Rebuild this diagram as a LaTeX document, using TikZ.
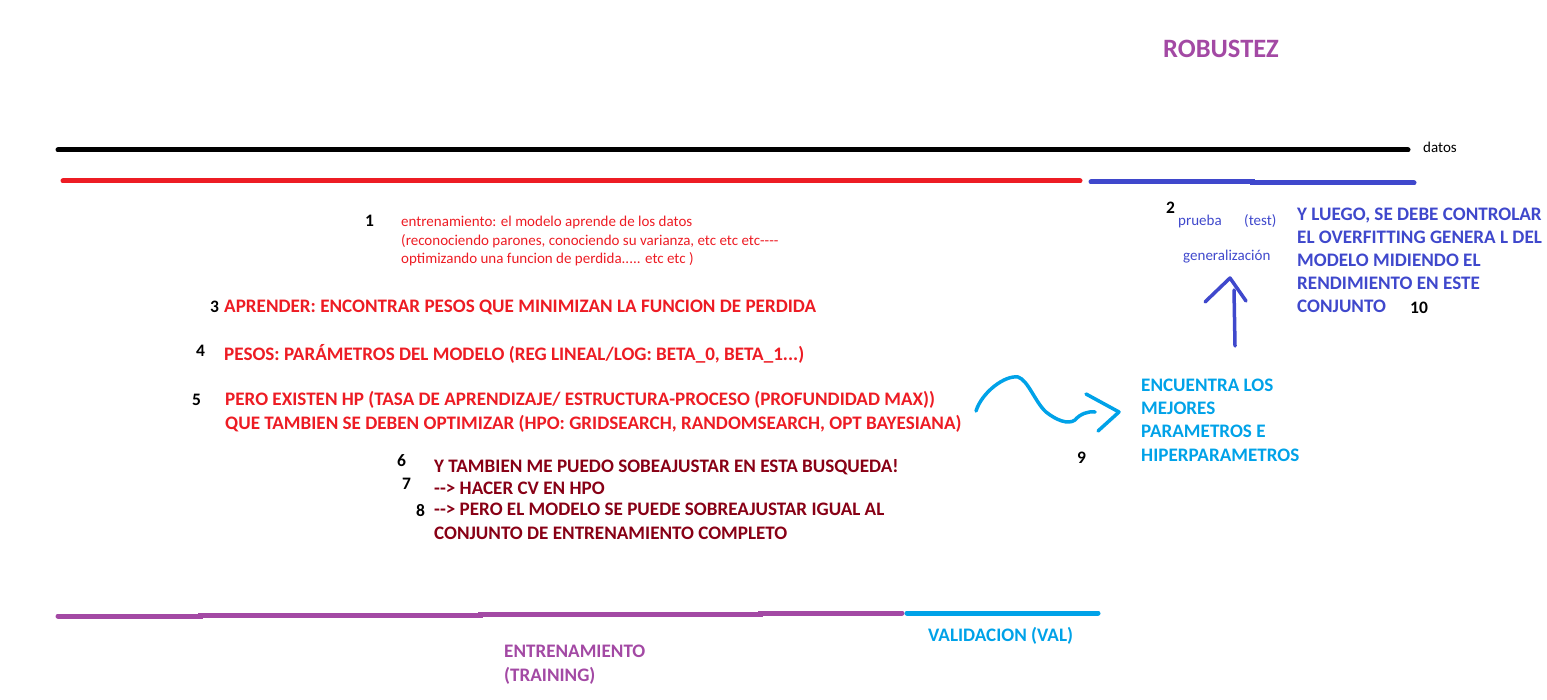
\documentclass[tikz,border=0pt]{standalone}
\usepackage{fontspec}
\setmainfont{Carlito}
\usepackage{tikz}
\definecolor{paintred}{HTML}{ED1C24}
\definecolor{paintdark}{HTML}{880015}
\definecolor{paintpurple}{HTML}{A349A4}
\definecolor{paintblue}{HTML}{3F48CC}
\definecolor{paintcyan}{HTML}{00A2E8}

\begin{document}
\begin{tikzpicture}[x=1pt, y=-1pt,
        small/.style={anchor=base west, inner sep=0pt, align=left, text=#1,
                      font=\fontsize{15}{18.6}\selectfont},
        big/.style={anchor=base west, inner sep=0pt, align=left, text=#1,
                    font=\bfseries\fontsize{19.1}{23.2}\selectfont},
        num/.style={anchor=base west, inner sep=0pt, font=\bfseries\fontsize{17.5}{20}\selectfont},
        bar/.style={line width=5pt, line cap=round, draw=#1},
        pen/.style={line width=3.5pt, line cap=round, line join=round, draw=#1}
    ]
        \useasboundingbox (0,0) rectangle (1547,700);

        \draw[bar=black] (58,150) -- (1408,150);
        \draw[bar=paintred] (63,181) -- (1080,181);
        \draw[bar=paintblue] (1091,182) -- (1252,182) -- (1252,183) -- (1414,183);
        \draw[bar=paintpurple] (58,616) -- (200,616) -- (200,615) -- (480,615)
            -- (480,614) -- (760,614) -- (760,613) -- (902,613);
        \draw[bar=paintcyan] (907,613) -- (1098,613);

        \node[big=paintpurple, font=\bfseries\fontsize{26.5}{30}\selectfont] (rob) at (1163,58) {ROBUSTEZ};
        \node[small=black] (datos) at (1423,153) {datos};

        \node[num] (n1) at (365,227) {1};
        \node[small=paintred] (entr) at (401,264)
            {entrenamiento: el modelo aprende de los datos\\
             (reconociendo parones, conociendo su varianza, etc etc etc-{}-{}-{}-\\
             optimizando una funcion de perdida..... etc etc )};

        \node[num] (n2) at (1166,214) {2};
        \node[small=paintblue] (prueba) at (1178,226) {prueba};
        \node[small=paintblue] (test) at (1244,226) {(test)};
        \node[small=paintblue] (gen) at (1183,261) {generalización};
        \node[big=paintblue] (luego) at (1297,313)
            {Y LUEGO, SE DEBE CONTROLAR\\
             EL OVERFITTING GENERA L DEL\\
             MODELO MIDIENDO EL\\
             RENDIMIENTO EN ESTE\\
             CONJUNTO};
        \node[num] (n10) at (1410,314) {10};

        \node[num] (n3) at (210,313) {3};
        \node[big=paintred] (aprender) at (224,313)
            {APRENDER: ENCONTRAR PESOS QUE MINIMIZAN LA FUNCION DE PERDIDA};
        \node[num] (n4) at (196,357) {4};
        \node[big=paintred] (pesos) at (224,360)
            {PESOS: PARÁMETROS DEL MODELO (REG LINEAL/LOG: BETA\_0, BETA\_1...)};
        \node[num] (n5) at (192,406) {5};
        \node[big=paintred, font=\bfseries\fontsize{19.1}{24}\selectfont] (hp) at (225,429)
            {PERO EXISTEN HP (TASA DE APRENDIZAJE/ ESTRUCTURA-PROCESO (PROFUNDIDAD MAX))\\
             QUE TAMBIEN SE DEBEN OPTIMIZAR (HPO: GRIDSEARCH, RANDOMSEARCH, OPT BAYESIANA)};

        \node[num] (n6) at (397,466) {6};
        \node[big=paintdark] (sobre) at (434,472) {Y TAMBIEN ME PUEDO SOBEAJUSTAR EN ESTA BUSQUEDA!};
        \node[num] (n7) at (402,489) {7};
        \node[big=paintdark] (cv) at (434,494) {-{}-{}> HACER CV EN HPO};
        \node[num] (n8) at (416,516) {8};
        \node[big=paintdark] (igual) at (434,539)
            {-{}-{}> PERO EL MODELO SE PUEDE SOBREAJUSTAR IGUAL AL\\
             CONJUNTO DE ENTRENAMIENTO COMPLETO};

        \node[num] (n9) at (1077,463) {9};
        \node[big=paintcyan] (mejores) at (1141,461)
            {ENCUENTRA LOS\\ MEJORES\\ PARAMETROS E\\ HIPERPARAMETROS};

        \node[big=paintcyan] (val) at (928,641) {VALIDACION (VAL)};
        \node[big=paintpurple] (train) at (504,681) {ENTRENAMIENTO\\ (TRAINING)};

        \draw[pen=paintblue] (1235,346) -- (1234,290);
        \draw[pen=paintblue] (1205,302) -- (1230,278) -- (1246,301);

        \draw[pen=paintcyan] (976,411) .. controls (982,392) and (1005,375) .. (1018,377)
            .. controls (1028,380) and (1035,402) .. (1046,412)
            .. controls (1056,420) and (1068,425) .. (1075,420)
            .. controls (1080,414) and (1088,411) .. (1095,412);
        \draw[pen=paintcyan] (1086,394) -- (1119,412) -- (1098,431);
    \end{tikzpicture}
\end{document}
